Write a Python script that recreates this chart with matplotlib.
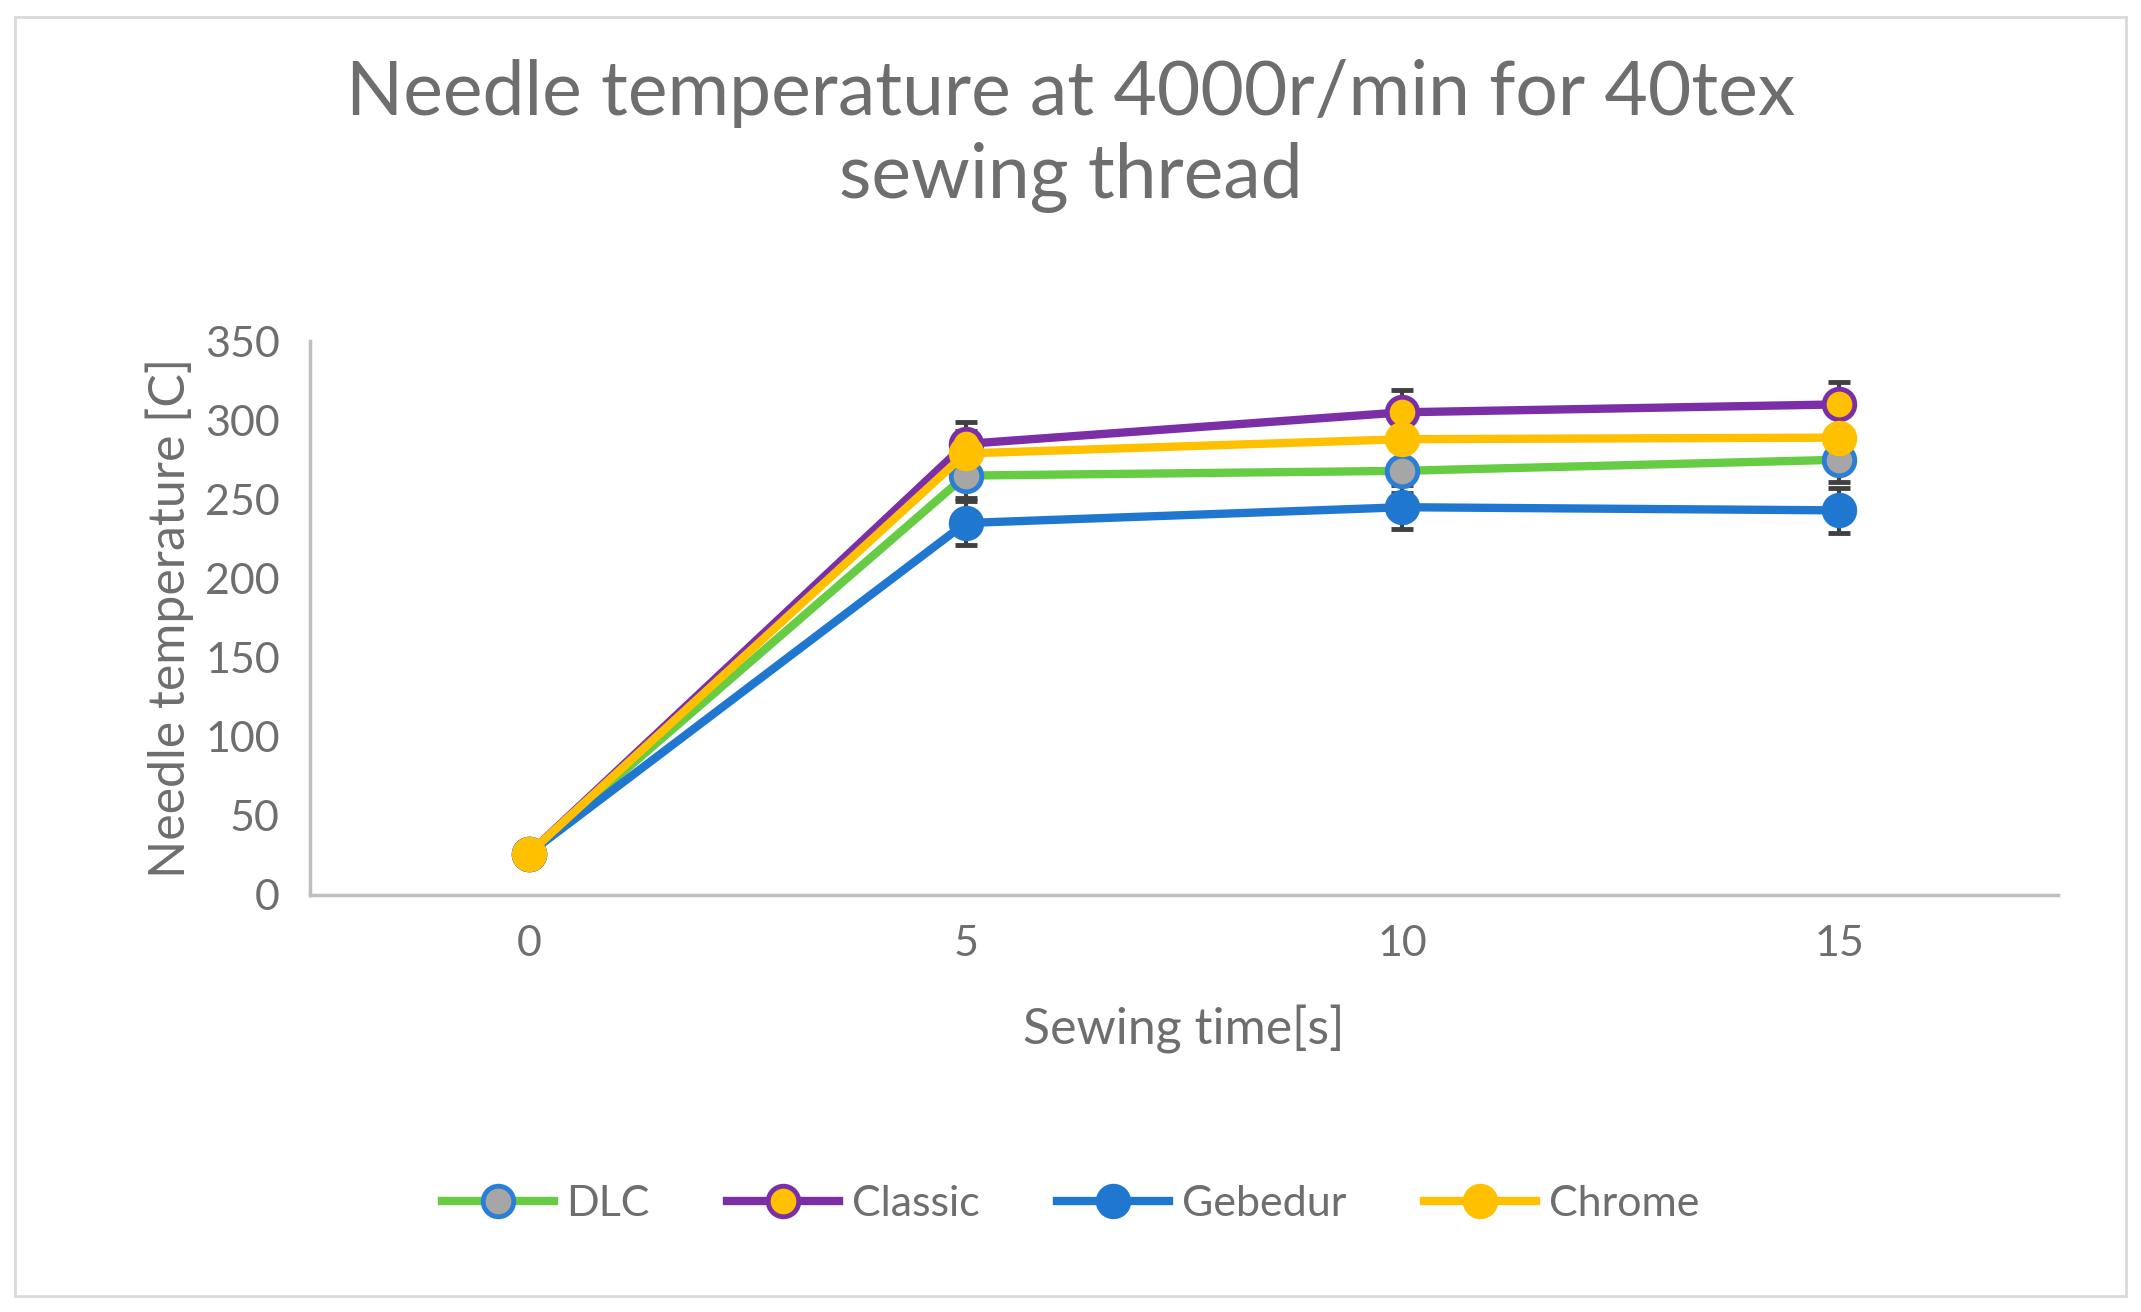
import matplotlib
matplotlib.use('Agg')
import matplotlib.pyplot as plt
from matplotlib.patches import Rectangle
from matplotlib.lines import Line2D

plt.rcParams['font.family'] = ['Lato', 'DejaVu Sans']

times = ['0', '5', '10', '15']
dlc = [26, 265, 268, 275]
classic = [26, 285, 305, 310]
gebedur = [26, 235, 245, 243]
chrome = [26, 279, 288, 289]
err = [0, 14, 14, 14]

series = [
    ('DLC', dlc, '#66cc44', '#a6a6a6', '#2a7fd4'),
    ('Classic', classic, '#7b2ea6', '#ffc000', '#7b2ea6'),
    ('Gebedur', gebedur, '#1f77d0', '#1f77d0', '#1f77d0'),
    ('Chrome', chrome, '#ffc000', '#ffc000', '#ffc000'),
]

grey = '#6e6e6e'
fig = plt.figure(figsize=(21.41, 13.12), dpi=100, facecolor='white')
fig.patches.append(Rectangle((0.007, 0.012), 0.986, 0.975, transform=fig.transFigure,
                             fill=False, edgecolor='#d9d9d9', linewidth=2))
ax = fig.add_axes([0.145, 0.318, 0.816, 0.422])
x = range(len(times))
handles = []
for name, vals, lc, fc, ec in series:
    style = dict(color=lc, linewidth=6, marker='o', markersize=22,
                 markerfacecolor=fc, markeredgecolor=ec, markeredgewidth=3.5)
    ax.errorbar(x, vals, yerr=err, ecolor='#404040', elinewidth=3, capsize=8,
                capthick=3, **style)
    handles.append(Line2D([], [], label=name, **style))

ax.set_xlim(-0.5, 3.5)
ax.set_ylim(0, 350)
ax.set_yticks(range(0, 351, 50))
ax.set_xticks(list(x))
ax.set_xticklabels(times)
ax.tick_params(labelsize=31, colors=grey, length=0, pad=22)
for s in ['top', 'right']:
    ax.spines[s].set_visible(False)
for s in ['left', 'bottom']:
    ax.spines[s].set_color('#bfbfbf')
    ax.spines[s].set_linewidth(2.5)
ax.set_xlabel('Sewing time[s]', fontsize=36, color=grey, labelpad=30)
ax.set_ylabel('Needle temperature [C]', fontsize=36, color=grey, labelpad=8)
fig.suptitle('Needle temperature at 4000r/min for 40tex\nsewing thread', fontsize=54,
             color=grey, y=0.955, linespacing=1.25)
fig.legend(handles=handles, loc='center', bbox_to_anchor=(0.5, 0.082), ncol=4,
           frameon=False, fontsize=31, labelcolor=grey, handlelength=2.6,
           columnspacing=1.8, handletextpad=0.3)
fig.savefig('out.png', dpi=100)
